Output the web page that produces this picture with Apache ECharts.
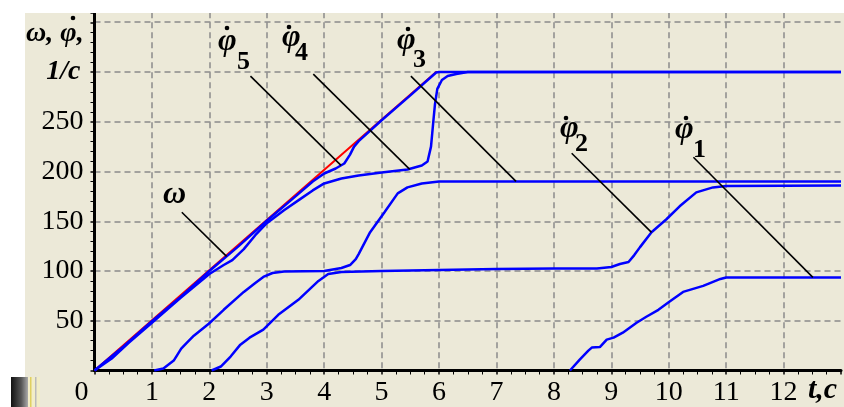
<!DOCTYPE html>
<html><head><meta charset="utf-8">
<script src="https://cdn.jsdelivr.net/npm/echarts@6/dist/echarts.min.js"></script>
<style>html,body{margin:0;padding:0;background:#fff}#c{width:844px;height:407px}</style>
</head><body><div id="c"></div>
<script>
// ---- data (t in s, speed in 1/c) ----
const omega = [[0,0],[5.95,300],[13,300]];
const phi5 = [[0,0],[0.5,24],[1,49.5],[1.5,74],[2,100],[2.5,124.5],[3,150.5],[3.5,175],[3.8,190],[4.0,198],[4.2,203],[4.35,208],[4.45,217],[4.52,225],[4.6,230.5],[5,251.5],[5.5,276.5],[5.95,299.5],[6.0,300],[13,300]];
const phi4 = [[0,0],[0.3,12],[0.6,28],[1,48],[1.5,73],[2,97],[2.25,106],[2.4,111],[2.6,122],[2.8,136],[3,148],[3.3,161],[3.6,173],[3.8,181],[4,188],[4.3,193],[4.6,196],[5,199],[5.45,202],[5.7,206],[5.8,210],[5.86,225],[5.9,250],[5.93,268],[5.97,283],[6.05,292],[6.15,296],[6.3,298],[6.5,300],[13,300]];
const phi3 = [[1.04,0],[1.2,2],[1.38,10],[1.51,22],[1.61,28],[1.73,35],[1.99,47],[2.25,61],[2.6,79],[2.8,88],[2.94,94],[3.1,98],[3.3,99.5],[4,100],[4.3,103],[4.45,106],[4.55,112],[4.6,117],[4.8,139],[5.05,159],[5.28,178],[5.45,184],[5.7,188],[6,190],[13,190]];
const phi2 = [[2.04,0],[2.2,4],[2.37,14],[2.54,26],[2.7,33],[2.94,41],[3.2,56],[3.55,71],[3.9,90],[4.07,97],[4.3,99],[5,100],[6,101],[7,102],[8,102.5],[8.75,102.5],[9,104],[9.15,107],[9.3,109],[9.4,116],[9.5,124],[9.7,139],[9.96,152],[10.19,165],[10.48,179],[10.77,184],[11,185.5],[13,186]];
const phi1 = [[8.28,0],[8.45,11],[8.6,20],[8.66,23],[8.8,23.5],[8.92,31],[9.04,33],[9.2,38],[9.44,48],[9.61,54],[9.82,61],[10.01,69],[10.25,79],[10.6,85],[10.9,92],[11,93.5],[13,93.5]];
// leader lines (data coords): [start, end]
const leaders = [
  [[1.52,159],[2.30,114.7]],
  [[2.716,295.8],[4.293,206.2]],
  [[3.81,297.8],[5.49,202.2]],
  [[5.51,295.8],[7.34,190.1]],
  [[8.31,218.3],[9.70,138.8]],
  [[10.43,214.3],[12.51,93.6]]
];
const xMax = 13, yMax = 360;

const SERIF = '"Liberation Serif", "Times New Roman", serif';
const BI = (s) => 'italic bold ' + s + 'px ' + SERIF;
const B = (s) => 'bold ' + s + 'px ' + SERIF;
function txt(x, y, text, font) {
  return {type:'text', x:x, y:y, z:100, silent:true, style:{text:text, font:font, fill:'#000', textAlign:'left', textVerticalAlign:'middle'}};
}
function dot(x, y) {
  return {type:'circle', z:100, silent:true, shape:{cx:x, cy:y, r:2.3}, style:{fill:'#000'}};
}
const PHI = '\u03C6';

const chart = echarts.init(document.getElementById('c'), null, {renderer:'canvas'});
const blue = (name, data) => ({name, type:'line', data, showSymbol:false, symbol:'none', lineStyle:{color:'#0000FF', width:2.5}, itemStyle:{color:'#0000FF'}, z:3, silent:true});

chart.setOption({
  animation:false,
  backgroundColor:'#ECE9D8',
  grid:{left:94.5, top:12.3, width:750.75, bottom:36.5, containLabel:false},
  xAxis:{type:'value', min:0, max:xMax, interval:1,
    axisLine:{show:true, onZero:true, lineStyle:{color:'#000', width:3}},
    axisTick:{show:true, inside:false, length:4, lineStyle:{color:'#000', width:1.5}},
    minorTick:{show:true, splitNumber:4, length:4, lineStyle:{color:'#000', width:1}},
    splitLine:{show:true, showMinLine:false, showMaxLine:false, lineStyle:{color:'#8a8a8a', width:1.5, type:[6,4]}},
    axisLabel:{margin:8, color:'#000', fontFamily:SERIF, fontSize:28,
      formatter:(v)=> v===0 ? '{z|0}' : (v>=xMax ? '' : String(v)),
      rich:{z:{fontFamily:SERIF, fontSize:28, color:'#000', padding:[0,26,0,0]}}}
  },
  yAxis:{type:'value', min:0, max:yMax, interval:50,
    axisLine:{show:true, onZero:false, lineStyle:{color:'#000', width:3}},
    axisTick:{show:true, inside:false, length:4, lineStyle:{color:'#000', width:1.5}},
    minorTick:{show:true, splitNumber:5, length:4, lineStyle:{color:'#000', width:1}},
    splitLine:{show:true, showMinLine:false, showMaxLine:false, lineStyle:{color:'#8a8a8a', width:1.5, type:[6,4]}},
    axisLabel:{margin:11, color:'#000', fontFamily:SERIF, fontSize:28,
      formatter:(v)=> v===0 || v>300 ? '' : (v===300 ? '{u|1/c}' : String(v)),
      rich:{u:{fontStyle:'italic', fontWeight:'bold', fontFamily:SERIF, fontSize:28, color:'#000', padding:[0,3,0,0]}}}
  },
  graphic:[
    {type:'rect', shape:{x:0,y:0,width:844,height:13}, style:{fill:'#fff'}, z:50, silent:true},
    {type:'rect', shape:{x:0,y:0,width:25,height:377}, style:{fill:'#fff'}, z:50, silent:true},
    {type:'rect', shape:{x:0,y:377,width:11,height:30}, style:{fill:'#fff'}, z:50, silent:true},
    {type:'rect', shape:{x:11,y:377,width:17,height:30}, z:50, silent:true,
      style:{fill:new echarts.graphic.LinearGradient(0,0,1,0,[{offset:0,color:'#111'},{offset:0.6,color:'#555'},{offset:1,color:'#aaa'}])}},
    {type:'rect', shape:{x:28,y:377,width:12,height:30}, style:{fill:'#F2EDC8'}, z:50, silent:true},
    {type:'rect', shape:{x:30,y:377,width:1.5,height:30}, style:{fill:'#E0D060'}, z:51, silent:true},
    {type:'rect', shape:{x:35,y:377,width:1.5,height:30}, style:{fill:'#bbb'}, z:51, silent:true},
    txt(26, 34, '\u03C9, ' + PHI + ',', BI(28)), dot(73, 18),
    txt(808, 390, 't,c', BI(30)),
    txt(163, 195, '\u03C9', BI(32)),
    txt(218, 42, PHI, BI(32)), txt(237, 62, '5', B(26)), dot(227, 28),
    txt(282, 38, PHI, BI(32)), txt(295, 53, '4', B(26)), dot(289, 27),
    txt(397, 41, PHI, BI(32)), txt(413, 60, '3', B(26)), dot(408, 29),
    txt(560, 129, PHI, BI(32)), txt(575, 144, '2', B(26)), dot(566, 118),
    txt(675, 130, PHI, BI(32)), txt(693, 150, '1', B(26)), dot(686, 118)
  ],
  series:[
    {name:'omega', type:'line', data:omega, showSymbol:false, symbol:'none', lineStyle:{color:'#FF0000', width:2}, z:2, silent:true},
    blue('phi1', phi1), blue('phi2', phi2), blue('phi3', phi3), blue('phi4', phi4), blue('phi5', phi5),
    {name:'leaders', type:'line', data:[], z:4, silent:true,
      markLine:{silent:true, symbol:['none','none'], animation:false, label:{show:false},
        lineStyle:{color:'#000', width:1.6, type:'solid'},
        data: leaders.map(l => [{coord:l[0]},{coord:l[1]}])}}
  ]
});
</script></body></html>
